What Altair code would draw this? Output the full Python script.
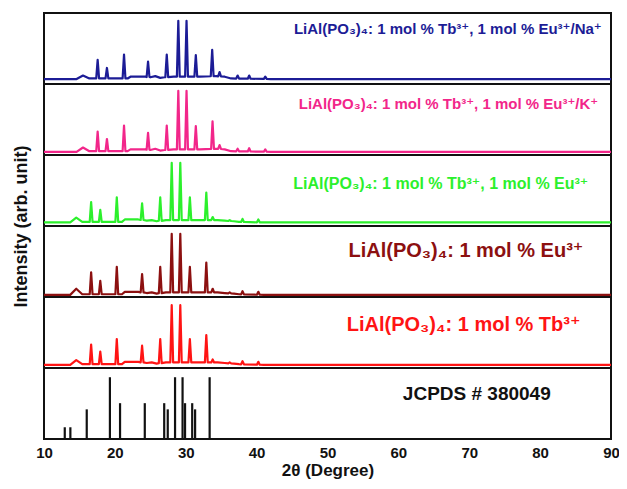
import altair as alt
import numpy as np
import pandas as pd

X_TICKS = [10, 20, 30, 40, 50, 60, 70, 80, 90]

# ---- spectra (relative intensity, % of strongest peak) ----
NA_POS = [17.57, 18.88, 21.29, 24.68, 27.32, 28.95, 30.11, 31.42, 33.73, 34.77, 37.32, 38.95, 41.22]
NA_INT = [33, 19, 42, 30, 42, 100, 100, 41, 50, 12, 6, 6, 4]
NA_BG_X = [10, 14.6, 15.5, 16.4, 21.8, 22.2, 24.3, 25.0, 25.7, 26.4, 27.0, 28.3, 32.0, 34.3, 35.5, 36.4, 42.0, 90]
NA_BG_Y = [0, 0, 6, 1, 1, 4, 4, 3, 5, 2, 3, 4, 4, 5, 4, 1, 0, 0]

K_POS = [17.57, 18.88, 21.29, 24.68, 27.32, 28.95, 30.11, 31.42, 33.78, 34.77, 37.32, 38.95, 41.22]
K_INT = [33, 21, 43, 31, 43, 100, 100, 42, 50, 11, 5, 6, 4]
K_BG_X = [10, 14.6, 15.5, 16.4, 21.8, 22.2, 24.3, 25.0, 25.7, 26.4, 27.0, 28.3, 32.0, 34.3, 35.5, 36.4, 42.0, 90]
K_BG_Y = [0, 0, 7, 1, 1, 4, 4, 3, 5, 2, 3, 4, 4, 5, 4, 1, 0, 0]

TBEU_POS = [16.65, 17.94, 20.27, 23.84, 26.40, 28.02, 29.23, 30.58, 32.90, 33.80, 36.20, 38.01, 40.24]
TBEU_INT = [34, 21, 42, 32, 42, 100, 100, 42, 50, 9, 4, 6, 5]
TBEU_BG_X = [10, 13.7, 14.55, 15.4, 21.0, 21.4, 23.3, 24.5, 25.2, 25.9, 27.2, 31.3, 33.3, 34.5, 35.5, 36.8, 37.5, 41.0, 90]
TBEU_BG_Y = [0, 0, 8, 1, 1, 5, 5, 3, 4, 2, 4, 4, 4, 4, 3, 2, 1, 0, 0]

EU_POS = [16.65, 17.94, 20.27, 23.84, 26.40, 28.02, 29.23, 30.58, 32.90, 33.80, 36.20, 38.01, 40.24]
EU_INT = [37, 23, 46, 34, 46, 100, 100, 46, 53, 10, 4, 6, 5]
EU_BG_X = [10, 13.7, 14.55, 15.4, 21.0, 21.4, 23.3, 24.5, 25.2, 25.9, 27.2, 31.3, 33.3, 34.5, 35.5, 36.8, 37.5, 41.0, 90]
EU_BG_Y = [0, 0, 10, 1, 1, 5, 5, 3, 4, 2, 4, 4, 4, 4, 3, 2, 1, 0, 0]

TB_POS = [16.65, 17.94, 20.27, 23.84, 26.40, 28.02, 29.23, 30.58, 32.90, 33.80, 36.20, 38.01, 40.24]
TB_INT = [34, 22, 43, 32, 43, 100, 100, 43, 50, 9, 4, 6, 5]
TB_BG_X = [10, 13.7, 14.55, 15.4, 21.0, 21.4, 23.3, 24.5, 25.2, 25.9, 27.2, 31.3, 33.3, 34.5, 35.5, 36.8, 37.5, 41.0, 90]
TB_BG_Y = [0, 0, 8, 1, 1, 5, 5, 3, 4, 2, 4, 4, 4, 4, 3, 2, 1, 0, 0]

# ---- JCPDS # 380049 stick pattern ----
JCPDS_POS = [12.93, 13.72, 16.03, 19.30, 20.73, 24.22, 26.96, 27.46, 28.49, 29.55, 29.90, 30.91, 31.32, 33.37]
JCPDS_INT = [19, 19, 48, 100, 58, 58, 58, 48, 100, 100, 58, 58, 48, 100]

# ---- panel styling ----
NAMES = ["Na", "K", "TbEu", "Eu", "Tb"]
PANELS = [5, 4, 3, 2, 1]
COLORS = ["#1c1c96", "#f2268a", "#2cf02c", "#8c1010", "#ff1414"]
BASES = [0.07, 0.045, 0.05, 0.03, 0.045]
SCALES = [0.82, 0.86, 0.84, 0.86, 0.84]

LABELS = [
    "LiAl(PO₃)₄: 1 mol % Tb³⁺, 1 mol % Eu³⁺/Na⁺",
    "LiAl(PO₃)₄: 1 mol % Tb³⁺, 1 mol % Eu³⁺/K⁺",
    "LiAl(PO₃)₄: 1 mol % Tb³⁺, 1 mol % Eu³⁺",
    "LiAl(PO₃)₄: 1 mol % Eu³⁺",
    "LiAl(PO₃)₄: 1 mol % Tb³⁺",
    "JCPDS # 380049",
]
LABEL_X = [88.7, 88.2, 86.8, 86.1, 85.7, 81.5]
LABEL_Y = [5.775, 4.72, 3.597, 2.642, 1.602, 0.632]
LABEL_COLOR = COLORS + ["#111111"]
LABEL_SIZE = [15, 15, 16, 20, 20, 19]

SPECTRA = [
    (NA_POS, NA_INT, NA_BG_X, NA_BG_Y),
    (K_POS, K_INT, K_BG_X, K_BG_Y),
    (TBEU_POS, TBEU_INT, TBEU_BG_X, TBEU_BG_Y),
    (EU_POS, EU_INT, EU_BG_X, EU_BG_Y),
    (TB_POS, TB_INT, TB_BG_X, TB_BG_Y),
]

HALF = 0.2
rows = []
for name, panel, base, sc, (pos, inten, bgx, bgy) in zip(NAMES, PANELS, BASES, SCALES, SPECTRA):
    pts = list(zip(bgx, bgy))
    for p, h in zip(pos, inten):
        b = float(np.interp(p, bgx, bgy))
        pts += [(p - HALF, b), (p, h), (p + HALF, b)]
    pts.sort(key=lambda t: t[0])
    for i, (x, v) in enumerate(pts):
        rows.append({"series": name, "i": i, "x": x, "y": panel + base + v / 100.0 * sc})
spec = pd.DataFrame(rows)

sticks = pd.DataFrame({"x": JCPDS_POS, "y": [0.0] * len(JCPDS_POS),
                       "y2": [v / 100.0 * 0.87 for v in JCPDS_INT]})
seps = pd.DataFrame({"y": [1, 2, 3, 4, 5]})
labels = pd.DataFrame({"text": LABELS, "x": LABEL_X, "y": LABEL_Y,
                       "color": LABEL_COLOR, "size": LABEL_SIZE})

FONT = "Liberation Sans, Arial, DejaVu Sans"

xscale = alt.Scale(domain=[10, 90], nice=False, zero=False)
yscale = alt.Scale(domain=[0, 6], nice=False, zero=False)

xaxis = alt.Axis(values=X_TICKS, title="2θ (Degree)", ticks=False, tickSize=0, grid=False,
                 domain=False, labelFont=FONT, labelFontWeight="bold", labelFontSize=15,
                 labelColor="#111111", labelPadding=6, titleFont=FONT, titleFontWeight="bold",
                 titleFontSize=17, titleColor="#111111", titlePadding=2, labelFlush=False)
yaxis = alt.Axis(labels=False, ticks=False, tickSize=0, grid=False, domain=False,
                 title="Intensity (arb. unit)", titleFont=FONT, titleFontWeight="bold",
                 titleFontSize=18, titleColor="#111111", titlePadding=14)

lines = alt.Chart(spec).mark_line(strokeWidth=2.2, strokeJoin="round").encode(
    x=alt.X("x:Q", scale=xscale, axis=xaxis),
    y=alt.Y("y:Q", scale=yscale, axis=yaxis),
    color=alt.Color("series:N", scale=alt.Scale(domain=NAMES, range=COLORS), legend=None),
    order=alt.Order("i:Q"),
)

stick_chart = alt.Chart(sticks).mark_rule(color="#111111", strokeWidth=2.2).encode(
    x=alt.X("x:Q", scale=xscale),
    y=alt.Y("y:Q", scale=yscale),
    y2="y2:Q",
)

sep_chart = alt.Chart(seps).mark_rule(color="#111111", strokeWidth=1.8).encode(
    y=alt.Y("y:Q", scale=yscale),
)

text_chart = alt.Chart(labels).mark_text(align="right", baseline="middle", font=FONT,
                                         fontWeight="bold").encode(
    x=alt.X("x:Q", scale=xscale),
    y=alt.Y("y:Q", scale=yscale),
    text="text:N",
    color=alt.Color("color:N", scale=None),
    size=alt.Size("size:Q", scale=None),
)

chart = alt.layer(lines, stick_chart, sep_chart, text_chart).properties(
    width=567, height=426,
    autosize=alt.AutoSizeParams(type="none"),
    padding={"left": 36, "top": 5, "right": 8, "bottom": 42},
    background="white",
).configure_view(stroke="#111111", strokeWidth=2)

chart.save("out.html", embed_options={"renderer": "svg", "actions": False})
